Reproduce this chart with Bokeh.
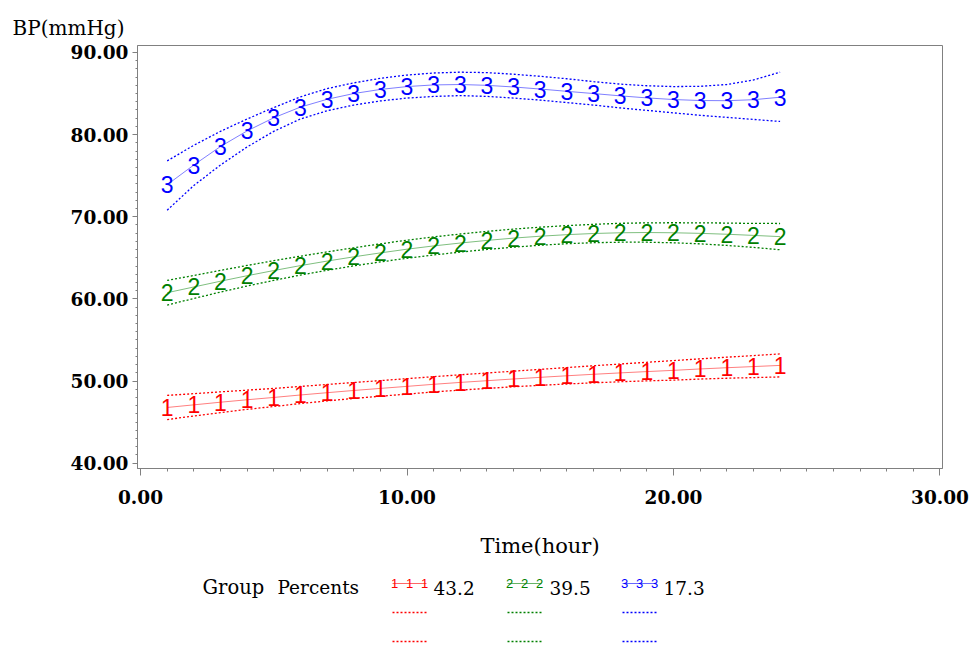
from bokeh.plotting import figure
from bokeh.models import Range1d, FixedTicker, PrintfTickFormatter
from bokeh.layouts import column
from bokeh.core.properties import value
from bokeh.embed import file_html
from bokeh.resources import INLINE

# ---------------- data ----------------
hours = list(range(1, 25))

g1_pred = [46.78, 47.10, 47.42, 47.72, 48.00, 48.30, 48.58, 48.85, 49.10, 49.35, 49.60, 49.83,
           50.04, 50.25, 50.45, 50.64, 50.82, 50.99, 51.15, 51.30, 51.47, 51.62, 51.76, 51.90]
g1_upper = [48.25, 48.46, 48.68, 48.89, 49.10, 49.34, 49.58, 49.82, 50.05, 50.29, 50.53, 50.76,
            50.98, 51.20, 51.42, 51.64, 51.86, 52.07, 52.28, 52.49, 52.70, 52.90, 53.10, 53.30]
g1_lower = [45.31, 45.74, 46.16, 46.55, 46.90, 47.26, 47.58, 47.88, 48.15, 48.41, 48.67, 48.90,
            49.10, 49.30, 49.48, 49.64, 49.78, 49.91, 50.02, 50.11, 50.24, 50.34, 50.42, 50.50]

g2_pred = [60.75, 61.45, 62.15, 62.82, 63.45, 64.05, 64.60, 65.12, 65.60, 66.05, 66.45, 66.80,
           67.12, 67.40, 67.63, 67.82, 67.96, 68.05, 68.08, 68.05, 67.98, 67.87, 67.73, 67.58]
g2_upper = [62.25, 62.85, 63.47, 64.07, 64.65, 65.20, 65.72, 66.22, 66.70, 67.15, 67.55, 67.90,
            68.22, 68.50, 68.73, 68.92, 69.08, 69.20, 69.26, 69.27, 69.26, 69.23, 69.19, 69.18]
g2_lower = [59.25, 60.05, 60.83, 61.57, 62.25, 62.90, 63.48, 64.02, 64.50, 64.95, 65.35, 65.70,
            66.02, 66.30, 66.53, 66.72, 66.84, 66.90, 66.90, 66.83, 66.70, 66.51, 66.27, 65.98]

g3_pred = [73.90, 76.30, 78.55, 80.45, 82.05, 83.35, 84.30, 85.00, 85.50, 85.85, 86.05, 86.10,
           86.00, 85.80, 85.55, 85.27, 85.00, 84.72, 84.47, 84.27, 84.15, 84.13, 84.25, 84.55]
g3_upper = [76.80, 78.70, 80.40, 81.90, 83.30, 84.60, 85.60, 86.30, 86.85, 87.25, 87.50, 87.60,
            87.55, 87.35, 87.10, 86.80, 86.45, 86.15, 85.95, 85.85, 85.88, 86.10, 86.65, 87.60]
g3_lower = [70.80, 73.80, 76.30, 78.50, 80.40, 81.90, 82.90, 83.60, 84.10, 84.45, 84.65, 84.75,
            84.65, 84.45, 84.20, 83.90, 83.60, 83.25, 82.95, 82.65, 82.35, 82.10, 81.85, 81.60]

group_symbols = ["1", "2", "3"]
group_percents = ["43.2", "39.5", "17.3"]
group_colors = ["#ff0000", "#008000", "#0000ff"]

x_ticks = [0, 10, 20, 30]
y_ticks = [40, 50, 60, 70, 80, 90]
x_minor = list(range(0, 31))
y_minor = list(range(40, 91))

x_title = "Time(hour)"
y_title = "BP(mmHg)"
legend_title = ["Group", "Percents"]

preds = [g1_pred, g2_pred, g3_pred]
uppers = [g1_upper, g2_upper, g3_upper]
lowers = [g1_lower, g2_lower, g3_lower]

# ---------------- styles ----------------
SERIF = "DejaVu Serif"
SANS = "Liberation Sans"
AXIS_GRAY = "#808080"

p = figure(width=971, height=570,
           x_range=Range1d(-0.113, 30.094), y_range=Range1d(39.35, 90.85),
           output_backend="svg", toolbar_location=None,
           min_border_left=137, min_border_right=29,
           min_border_top=45, min_border_bottom=102)
p.xgrid.visible = False
p.ygrid.visible = False
p.outline_line_color = AXIS_GRAY
p.outline_line_width = 1
p.background_fill_color = "white"
p.border_fill_color = "white"

# vertical-axis title, written horizontally above the axis
p.title.text = y_title
p.title.align = "left"
p.title.offset = -125
p.title.text_font = SERIF
p.title.text_font_size = "20px"
p.title.text_font_style = "normal"
p.title.text_color = "black"
p.title.standoff = 12

xa = p.xaxis[0]
ya = p.yaxis[0]
xa.ticker = FixedTicker(ticks=x_ticks, minor_ticks=x_minor)
ya.ticker = FixedTicker(ticks=y_ticks, minor_ticks=y_minor)
xa.formatter = PrintfTickFormatter(format="%.2f")
ya.formatter = PrintfTickFormatter(format="%.2f")
for ax in (xa, ya):
    ax.axis_line_color = AXIS_GRAY
    ax.major_tick_line_color = AXIS_GRAY
    ax.minor_tick_line_color = AXIS_GRAY
    ax.major_tick_in = 0
    ax.minor_tick_in = 0
    ax.major_label_text_font = SERIF
    ax.major_label_text_font_size = "18.5px"
    ax.major_label_text_font_style = "bold"
    ax.major_label_text_color = "black"
xa.major_tick_out = 7
xa.minor_tick_out = 3
xa.major_label_standoff = 14
xa.axis_label = x_title
xa.axis_label_text_font = SERIF
xa.axis_label_text_font_size = "21px"
xa.axis_label_text_font_style = "normal"
xa.axis_label_text_color = "black"
xa.axis_label_standoff = 27
ya.major_tick_out = 5
ya.minor_tick_out = 2
ya.major_label_standoff = 4

for pred, up, lo, sym, col in zip(preds, uppers, lowers, group_symbols, group_colors):
    p.line(hours, up, line_color=col, line_width=1.3, line_dash="2 2")
    p.line(hours, lo, line_color=col, line_width=1.3, line_dash="2 2")
    p.line(hours, pred, line_color=col, line_width=1, line_alpha=0.5)
    p.text(hours, pred, text=[sym] * len(hours), text_color=col,
           text_font=value(SANS), text_font_size="23px",
           text_align="center", text_baseline="middle")

# ---------------- legend strip (frame aligned with the plot frame: x 137..942) ----------------
leg = figure(width=971, height=75, x_range=Range1d(137, 942), y_range=Range1d(645, 570),
             output_backend="svg", toolbar_location=None, min_border=0,
             x_axis_location=None, y_axis_location=None)
leg.xgrid.visible = False
leg.ygrid.visible = False
leg.outline_line_color = None
leg.title.text = ""

leg.text(x=[202, 277], y=[587, 587], text=legend_title, text_color="black",
         text_font=value(SERIF), text_font_size=["19.5px", "18.5px"],
         text_align="left", text_baseline="middle")

sym_x0 = [392, 507, 622]
pct_x = [433, 549, 663]
for i, (sym, pct, col) in enumerate(zip(group_symbols, group_percents, group_colors)):
    x0 = sym_x0[i]
    leg.line([x0, x0 + 34], [583, 583], line_color=col, line_width=1, line_alpha=0.6)
    leg.text(x=[x0 + 2, x0 + 17, x0 + 32], y=[583, 583, 583], text=[sym] * 3,
             text_color=col, text_font=value(SANS), text_font_size="13px",
             text_align="center", text_baseline="middle")
    leg.text(x=[pct_x[i]], y=[587], text=[pct], text_color="black",
             text_font=value(SERIF), text_font_size="18.5px",
             text_align="left", text_baseline="middle")
    leg.line([x0, x0 + 34], [612, 612], line_color=col, line_width=1.3, line_dash="2 2")
    leg.line([x0, x0 + 34], [641, 641], line_color=col, line_width=1.3, line_dash="2 2")

layout = column(p, leg)
open("out.html", "w").write(file_html(layout, INLINE))
